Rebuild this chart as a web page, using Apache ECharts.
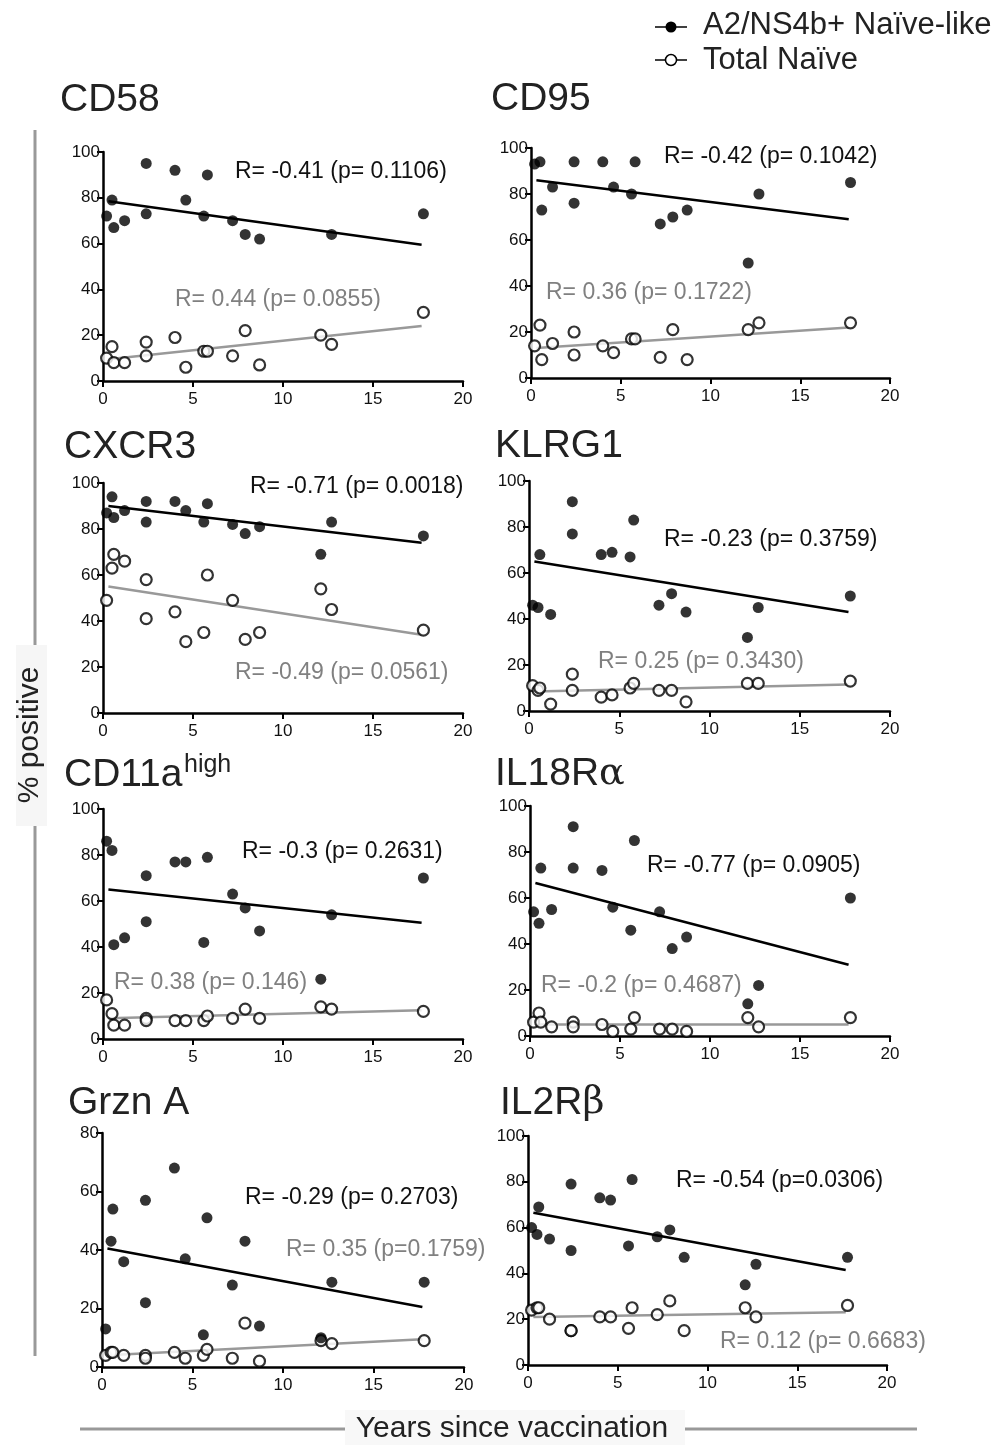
<!DOCTYPE html>
<html>
<head>
<meta charset="utf-8">
<script src="https://cdn.jsdelivr.net/npm/echarts@6/dist/echarts.min.js"></script>
<style>
  html, body { margin: 0; padding: 0; background: #fff; }
  #chart { width: 999px; height: 1445px; }
</style>
</head>
<body>
<div id="chart"></div>
<script>
// years since vaccination, same donors in every panel
const years = [0.2, 0.5, 0.6, 1.2, 2.4, 2.4, 4.0, 4.6, 5.6, 5.8, 7.2, 7.9, 8.7, 12.1, 12.7, 17.8]
const fitYears = [0.3, 17.7]

const markers = ['CD58', 'CD95', 'CXCR3', 'KLRG1', 'CD11a', 'IL18Rα', 'Grzn A', 'IL2Rβ']

// A2/NS4b+ naive-like (filled) and total naive (open), % positive
const cd58Filled = [72, 79, 67, 70, 95, 73, 92, 79, 72, 90, 70, 64, 62, null, 64, 73]
const cd58Open = [10, 15, 8, 8, 17, 11, 19, 6, 13, 13, 11, 22, 7, 20, 16, 30]
const cd95Filled = [93, 94, 73, 83, 94, 76, 94, 83, 80, 94, 67, 70, 73, 50, 80, 85]
const cd95Open = [14, 23, 8, 15, 20, 10, 14, 11, 17, 17, 9, 21, 8, 21, 24, 24]
const cxcr3Filled = [87, 94, 85, 88, 92, 83, 92, 88, 83, 91, 82, 78, 81, 69, 83, 77]
const cxcr3Open = [49, 63, 69, 66, 58, 41, 44, 31, 35, 60, 49, 32, 35, 54, 45, 36]
const klrg1Filled = [46, 45, 68, 42, 91, 77, 68, 69, 67, 83, 46, 51, 43, 32, 45, 50]
const klrg1Open = [11, 9, 10, 3, 16, 9, 6, 7, 10, 12, 9, 9, 4, 12, 12, 13]
const cd11aFilled = [86, 82, 41, 44, 71, 51, 77, 77, 42, 79, 63, 57, 47, 26, 54, 70]
const cd11aOpen = [17, 11, 6, 6, 9, 8, 8, 8, 8, 10, 9, 13, 9, 14, 13, 12]
const il18rFilled = [54, 49, 73, 55, 91, 73, 72, 56, 46, 85, 54, 38, 43, 14, 22, 60]
const il18rOpen = [6, 10, 6, 4, 6, 4, 5, 2, 3, 8, 3, 3, 2, 8, 4, 8]
const grznFilled = [13, 43, 54, 36, 57, 22, 68, 37, 11, 51, 28, 43, 14, 10, 29, 29]
const grznOpen = [4, 5, 5, 4, 4, 3, 5, 3, 4, 6, 3, 15, 2, 9, 8, 9]
const il2rFilled = [60, 57, 69, 55, 79, 50, 73, 72, 52, 81, 56, 59, 47, 35, 44, 47]
const il2rOpen = [24, 25, 25, 20, 15, 15, 21, 21, 16, 25, 22, 28, 15, 25, 21, 26]

// regression line values at fitYears
const fitFilled = [[78.5, 59.5], [86, 69], [90, 74], [65, 43], [65, 50.5], [66.5, 31], [40.5, 20.5], [66.5, 41.5]]
const fitOpen = [[9.5, 24], [13, 22], [55, 34], [8.5, 11.5], [9, 12.5], [5, 5], [4, 9.5], [21, 23]]

const statsFilled = ['R= -0.41 (p= 0.1106)', 'R= -0.42 (p= 0.1042)', 'R= -0.71 (p= 0.0018)', 'R= -0.23 (p= 0.3759)',
  'R= -0.3 (p= 0.2631)', 'R= -0.77 (p= 0.0905)', 'R= -0.29 (p= 0.2703)', 'R= -0.54 (p=0.0306)']
const statsOpen = ['R= 0.44 (p= 0.0855)', 'R= 0.36 (p= 0.1722)', 'R= -0.49 (p= 0.0561)', 'R= 0.25 (p= 0.3430)',
  'R= 0.38 (p= 0.146)', 'R= -0.2 (p= 0.4687)', 'R= 0.35 (p=0.1759)', 'R= 0.12 (p= 0.6683)']

const yMax = [100, 100, 100, 100, 100, 100, 80, 100]

const filledSets = [cd58Filled, cd95Filled, cxcr3Filled, klrg1Filled, cd11aFilled, il18rFilled, grznFilled, il2rFilled]
const openSets = [cd58Open, cd95Open, cxcr3Open, klrg1Open, cd11aOpen, il18rOpen, grznOpen, il2rOpen]

// layout (pixels)
const grids = [
  { left: 103, top: 152, width: 360, height: 229 },
  { left: 531, top: 148, width: 359, height: 230 },
  { left: 103, top: 483, width: 360, height: 230 },
  { left: 529, top: 481, width: 361, height: 230 },
  { left: 103, top: 809, width: 360, height: 230 },
  { left: 530, top: 806, width: 360, height: 230 },
  { left: 102, top: 1133, width: 362, height: 234 },
  { left: 528, top: 1136, width: 359, height: 229 },
]
const titlePos = [[60, 100], [491, 99], [64, 447], [495, 446], [64, 775], [495, 774], [68, 1103], [500, 1103]]
const statFilledPos = [[235, 172], [664, 157], [250, 487], [664, 540], [242, 852], [647, 866], [245, 1198], [676, 1181]]
const statOpenPos = [[175, 300], [546, 293], [235, 673], [598, 662], [114, 983], [541, 986], [286, 1250], [720, 1342]]

const FONT = 'Arial, "Liberation Sans", sans-serif'
const GREY = '#999999'

const pair = (arr) => years.map((x, i) => [x, arr[i]]).filter(d => d[1] != null)

const xAxes = grids.map((g, i) => ({
  gridIndex: i, type: 'value', min: 0, max: 20, interval: 5,
  axisLine: { lineStyle: { color: '#000', width: 2.5 } },
  axisTick: { length: 6, lineStyle: { color: '#000', width: 2 } },
  axisLabel: { color: '#111', fontSize: 17, fontFamily: FONT, margin: 10 },
  splitLine: { show: false },
}))
const yAxes = grids.map((g, i) => ({
  gridIndex: i, type: 'value', min: 0, max: yMax[i], interval: 20,
  axisLine: { show: true, lineStyle: { color: '#000', width: 2.5 } },
  axisTick: { show: true, length: 6, lineStyle: { color: '#000', width: 2 } },
  axisLabel: { color: '#111', fontSize: 17, fontFamily: FONT, margin: 3 },
  splitLine: { show: false },
}))

const series = []
grids.forEach((g, i) => {
  series.push({
    type: 'line', xAxisIndex: i, yAxisIndex: i, symbol: 'none', silent: true, z: 3,
    lineStyle: { color: GREY, width: 2.5 },
    data: [[fitYears[0], fitOpen[i][0]], [fitYears[1], fitOpen[i][1]]],
  })
  series.push({
    type: 'line', xAxisIndex: i, yAxisIndex: i, symbol: 'none', silent: true, z: 3,
    lineStyle: { color: '#000', width: 2.5 },
    data: [[fitYears[0], fitFilled[i][0]], [fitYears[1], fitFilled[i][1]]],
  })
  series.push({
    type: 'scatter', xAxisIndex: i, yAxisIndex: i, symbolSize: 11, z: 4,
    itemStyle: { color: '#fff', borderColor: '#000', borderWidth: 2.2 },
    data: pair(openSets[i]),
  })
  series.push({
    type: 'scatter', xAxisIndex: i, yAxisIndex: i, symbolSize: 11, z: 5,
    itemStyle: { color: '#000' },
    data: pair(filledSets[i]),
  })
})

const txt = (x, y, text, size, color, extra) => ({
  type: 'text', x, y, z: 10,
  style: Object.assign({ text, fontSize: size, fontFamily: FONT, fill: color, verticalAlign: 'middle' }, extra || {}),
})

const graphic = []
markers.forEach((m, i) => {
  const [tx, ty] = titlePos[i]
  const greek = m.match(/[αβ]$/)
  if (greek) {
    graphic.push(txt(tx, ty, '{a|' + m.slice(0, -1) + '}{g|' + greek[0] + '}', 39, '#222', {
      rich: {
        a: { fontSize: 39, fontFamily: FONT, fill: '#222' },
        g: { fontSize: 38, fontFamily: '"DejaVu Serif", serif', fill: '#222' },
      },
    }))
  } else {
    graphic.push(txt(tx, ty, m, 39, '#222'))
  }
  graphic.push(txt(statFilledPos[i][0], statFilledPos[i][1], statsFilled[i], 23, '#111'))
  graphic.push(txt(statOpenPos[i][0], statOpenPos[i][1], statsOpen[i], 23, '#808080'))
})
graphic.push(txt(184, 765, 'high', 25, '#222'))

// legend
graphic.push({ type: 'line', shape: { x1: 655, y1: 27, x2: 687, y2: 27 }, style: { stroke: '#000', lineWidth: 1.5 } })
graphic.push({ type: 'circle', shape: { cx: 671, cy: 27, r: 5.5 }, style: { fill: '#000' } })
graphic.push(txt(703, 25, 'A2/NS4b+ Naïve-like', 31, '#222'))
graphic.push({ type: 'line', shape: { x1: 655, y1: 60, x2: 687, y2: 60 }, style: { stroke: '#000', lineWidth: 1.5 } })
graphic.push({ type: 'circle', shape: { cx: 671, cy: 60, r: 5.5 }, style: { fill: '#fff', stroke: '#000', lineWidth: 1.5 }, z: 11 })
graphic.push(txt(703, 60, 'Total Naïve', 31, '#222'))

// shared axis titles with grey rules
graphic.push({ type: 'line', shape: { x1: 35, y1: 130, x2: 35, y2: 1356 }, style: { stroke: GREY, lineWidth: 3 } })
graphic.push({ type: 'rect', shape: { x: 16, y: 645, width: 31, height: 181 }, style: { fill: '#f6f6f6' }, z: 9 })
graphic.push({
  type: 'text', x: 30, y: 735, rotation: Math.PI / 2, z: 10,
  style: { text: '% positive', fontSize: 30, fontFamily: FONT, fill: '#222', align: 'center', verticalAlign: 'middle' },
})
graphic.push({ type: 'line', shape: { x1: 80, y1: 1429, x2: 917, y2: 1429 }, style: { stroke: GREY, lineWidth: 3 } })
graphic.push({ type: 'rect', shape: { x: 345, y: 1410, width: 340, height: 35 }, style: { fill: '#f8f8f8' }, z: 9 })
graphic.push({
  type: 'text', x: 512, y: 1429, z: 10,
  style: { text: 'Years since vaccination', fontSize: 30, fontFamily: FONT, fill: '#222', align: 'center', verticalAlign: 'middle' },
})

const chart = echarts.init(document.getElementById('chart'), null, { renderer: 'canvas' })
chart.setOption({
  backgroundColor: '#fff',
  animation: false,
  grid: grids,
  xAxis: xAxes,
  yAxis: yAxes,
  series,
  graphic,
})
</script>
</body>
</html>
